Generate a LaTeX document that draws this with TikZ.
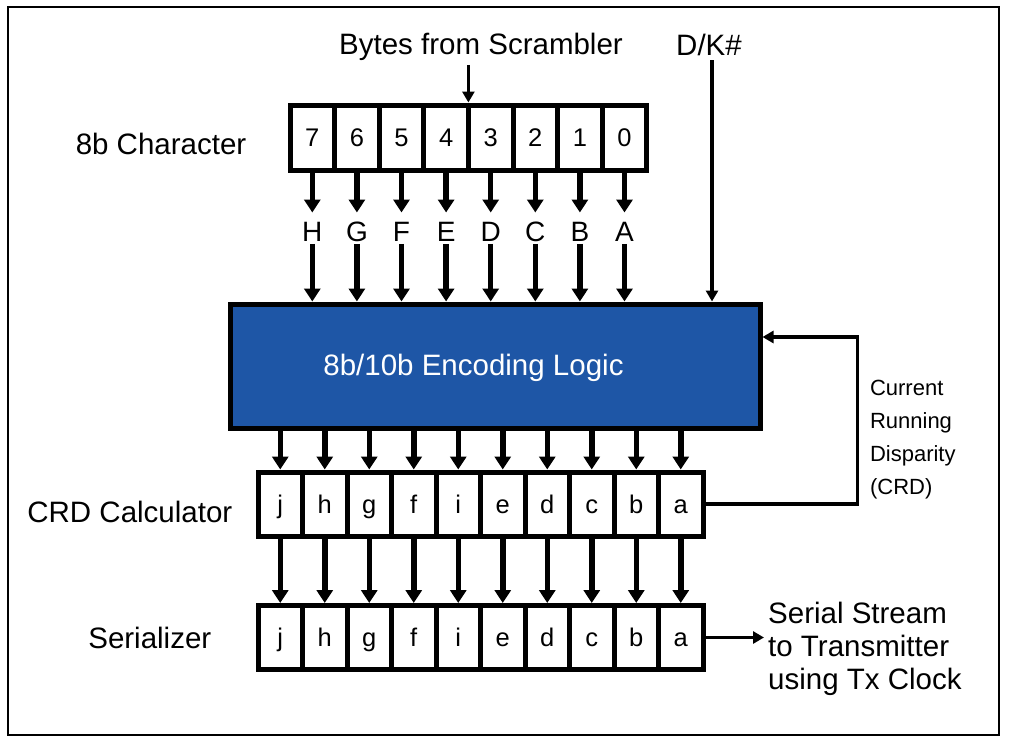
\documentclass[tikz,border=0pt]{standalone}
\usepackage{fontspec}
\setmainfont{Liberation Sans}
\usetikzlibrary{positioning, arrows.meta, calc}
\definecolor{encblue}{RGB}{30,86,166}
\tikzset{
  bitcell/.style={rectangle, draw=black, line width=5pt, minimum width=44.6pt,
    minimum height=65pt, inner sep=0pt, text height=18.5pt, text depth=0pt,
    font=\fontsize{25.5}{30}\selectfont},
  codecell/.style={bitcell, minimum width=44.5pt, minimum height=64pt},
  encoder/.style={rectangle, draw=black, fill=encblue, line width=5pt,
    minimum width=530pt, minimum height=124pt},
  enctext/.style={text=white, font=\fontsize{29.5}{33}\selectfont},
  biglabel/.style={font=\fontsize{29.5}{33}\selectfont, inner sep=4pt},
  bitname/.style={font=\fontsize{28}{32}\selectfont, inner sep=0pt,
    text height=29pt, text depth=2pt},
  note/.style={font=\fontsize{22}{33}\selectfont, align=left},
  bus/.style={line width=5.5pt, -{Triangle[length=13pt, width=16pt]}},
  wire/.style={line width=3.5pt, -{Triangle[length=11pt, width=12pt]}},
}
\begin{document}
\begin{tikzpicture}[x=1pt, y=1pt]
  \useasboundingbox (0,0) rectangle (1011,-744);
  \draw[line width=1.5pt] (8,-7) rectangle (999,-735);

  % encoding logic block
  \node[encoder] (enc) at (495,-366) {};
  \node[enctext] (enclabel) at ([xshift=-21.5pt, yshift=-2pt]enc.center)
    {8b/10b Encoding Logic};

  % 8b character
  \foreach \d [count=\i from 0] in {7,6,5,4,3,2,1,0}
    \node[bitcell] (c\d) at ({312.3+44.6*\i},-137.5) {\d};
  \node[biglabel, left=37pt of c7, yshift=-6.5pt] (charlbl) {8b Character};

  \foreach \d/\L in {7/H,6/G,5/F,4/E,3/D,2/C,1/B,0/A} {
    \node[bitname, below=40pt of c\d] (n\L) {\L};
    \draw[bus] (c\d) -- (n\L);
    \draw[bus] (n\L) -- (n\L |- enc.north);
  }

  % inputs
  \node[biglabel] (bytes) at (481,-47) {Bytes from Scrambler};
  \coordinate (split) at ($(c4.north)!.5!(c3.north)$);
  \draw[wire] (split |- bytes.south) -- (split);
  \node[biglabel] (dk) at (709,-45) {D/K\#};
  \draw[wire] ([xshift=3pt]dk.south) -- ([xshift=3pt]dk.south |- enc.north);

  % CRD calculator and serializer
  \foreach \l [count=\i from 0] in {j,h,g,f,i,e,d,c,b,a} {
    \node[codecell] (crd-\l) at ({280.25+44.5*\i},-504) {\l};
    \node[codecell] (ser-\l) at ({280.25+44.5*\i},-637.5) {\l};
    \draw[bus] (crd-\l |- enc.south) -- (crd-\l);
    \draw[bus] (crd-\l) -- (ser-\l);
  }
  \node[biglabel, left=19pt of crd-j, yshift=-8pt] (crdlbl) {CRD Calculator};
  \node[biglabel, left=40pt of ser-j] (serlbl) {Serializer};

  % running disparity feedback
  \coordinate (crdin) at ([yshift=29pt]enc.east);
  \draw[wire] (crd-a.east) -- ++(152,0) |- (crdin);
  \node[note, anchor=west] (crdnote) at (866.5,-440)
    {Current\\Running\\Disparity\\(CRD)};

  % serial output
  \node[biglabel, align=left, anchor=west] (serout) at (764,-649)
    {Serial Stream\\to Transmitter\\using Tx Clock};
  \draw[wire] (ser-a.east) -- (ser-a.east -| serout.west);
\end{tikzpicture}
\end{document}
